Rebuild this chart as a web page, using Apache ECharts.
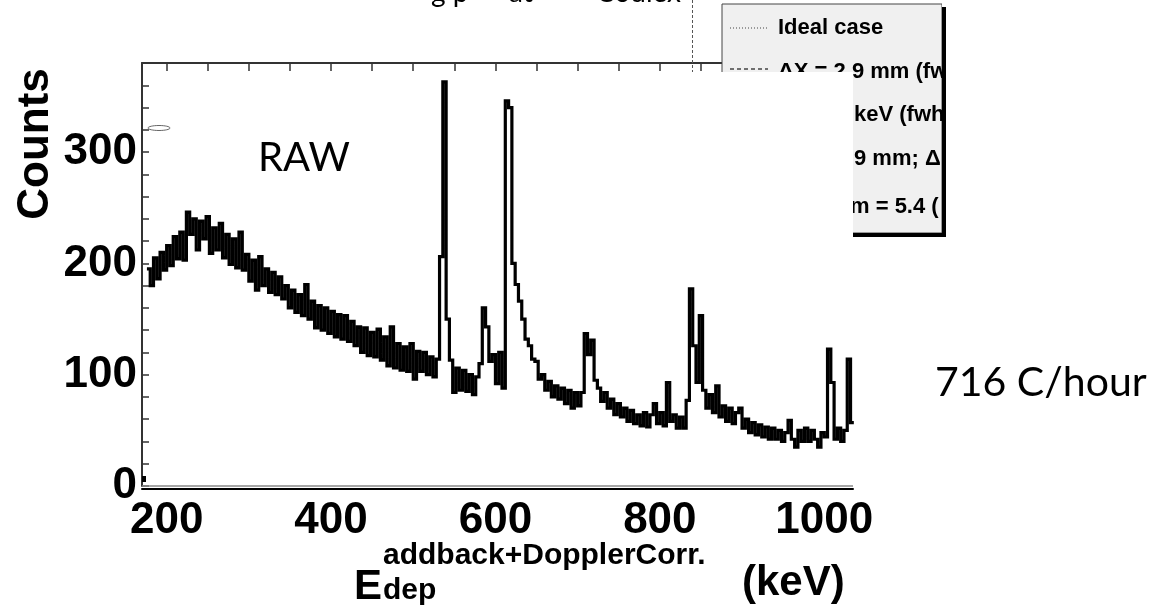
<!DOCTYPE html>
<html>
<head>
<meta charset="utf-8">
<script src="https://cdn.jsdelivr.net/npm/echarts@6/dist/echarts.min.js"></script>
<style>
  html, body { margin: 0; padding: 0; background: #fff; }
  #chart { width: 1164px; height: 611px; }
</style>
</head>
<body>
<div id="chart"></div>
<script>
// Gamma spectrum after addback + Doppler correction, 4 keV bins
const binStart = 176;   // keV, lower edge of the first bin
const binWidth = 4;     // keV
const counts = [
  // 176-212 keV
  195, 180, 205, 186, 210, 194, 216, 198, 224, 204,
  // 216-252
  228, 203, 246, 226, 240, 212, 238, 222, 242, 209,
  // 256-292
  232, 212, 236, 205, 226, 199, 222, 196, 228, 194,
  // 296-332
  208, 184, 203, 176, 206, 180, 195, 174, 192, 172,
  // 336-372
  188, 168, 180, 160, 176, 156, 172, 153, 181, 150,
  // 376-412
  166, 142, 162, 140, 160, 137, 157, 134, 154, 132,
  // 416-452
  153, 130, 148, 126, 143, 120, 142, 117, 138, 116,
  // 456-492
  141, 113, 134, 108, 143, 106, 128, 104, 125, 103,
  // 496-532
  128, 96, 121, 103, 120, 100, 116, 98, 114, 206,
  // 536-572
  363, 150, 113, 84, 106, 86, 104, 85, 100, 82,
  // 576-612
  98, 110, 160, 143, 112, 118, 92, 120, 88, 346,
  // 616-652
  340, 200, 181, 166, 150, 132, 126, 114, 112, 96,
  // 656-692
  100, 86, 94, 80, 90, 78, 88, 74, 86, 70,
  // 696-732
  84, 72, 84, 137, 118, 131, 95, 88, 76, 84,
  // 736-772
  70, 78, 64, 74, 62, 70, 58, 68, 56, 64,
  // 776-812
  54, 66, 53, 64, 74, 56, 66, 54, 93, 58,
  // 816-852
  64, 52, 62, 52, 77, 177, 126, 93, 153, 86,
  // 856-892
  70, 82, 66, 90, 62, 72, 58, 70, 56, 66,
  // 896-932
  70, 52, 60, 48, 57, 46, 55, 44, 53, 42,
  // 936-972
  52, 42, 50, 40, 48, 59, 42, 35, 50, 40,
  // 976-1012
  52, 40, 50, 42, 35, 48, 44, 123, 93, 42,
  // 1016-1032
  52, 40, 50, 114, 57
];

const xLabelValues = [200, 400, 600, 800, 1000];
const xTickValues = [200, 250, 300, 350, 400, 450, 500, 550, 600, 650, 700, 750, 800, 850, 900, 950, 1000];
const yLabelValues = [0, 100, 200, 300];
const yTickValues = [0, 20, 40, 60, 80, 100, 120, 140, 160, 180, 200, 220, 240, 260, 280, 300, 320, 340, 360];

const legendRows = ['Ideal case', '\u0394X = 2.9 mm (fwhm)', 'keV (fwhm)', '9 mm; \u0394E', 'm = 5.4 ('];

// step outline: one point per lower bin edge, plus the closing upper edge
const stepPoints = counts.map((c, i) => [binStart + i * binWidth, c]);
stepPoints.push([binStart + counts.length * binWidth, counts[counts.length - 1]]);

const AX = '"Liberation Sans", Arial, sans-serif';
const SLIDE = 'Lato, "Open Sans", sans-serif';

const chart = echarts.init(document.getElementById('chart'), null, { renderer: 'canvas' });

function txt(text, x, y, font, opts) {
  opts = opts || {};
  return {
    type: 'text', x: x, y: y, z: opts.z || 20, rotation: opts.rotation || 0,
    style: {
      text: text, font: font, fill: opts.fill || '#000',
      textAlign: opts.align || 'left', align: opts.align || 'left',
      textVerticalAlign: 'middle', verticalAlign: 'middle'
    }
  };
}

const graphics = [
  // y axis title
  txt('Counts', 36, 144, 'bold 44px ' + AX, { rotation: Math.PI / 2, align: 'center' }),
  // x axis title: E with superscript / subscript, then unit
  txt('E', 354, 587, 'bold 42px ' + AX),
  txt('addback+DopplerCorr.', 383, 556, 'bold 30px ' + AX),
  txt('dep', 383, 591, 'bold 30px ' + AX),
  txt('(keV)', 742, 583, 'bold 42px ' + AX),
  // slide annotations
  txt('RAW', 258, 158, '40px ' + SLIDE),
  txt('716 C/hour', 935, 383, '41px ' + SLIDE),
  txt('g p', 431, -7, '28px ' + SLIDE),
  txt('at', 509, -7, '28px ' + SLIDE),
  txt('Coulex', 596, -7, '28px ' + SLIDE),
  // dotted marker line above the frame
  { type: 'line', z: 15, shape: { x1: 692.5, y1: 0, x2: 692.5, y2: 72 },
    style: { stroke: '#555', lineWidth: 1, lineDash: [3, 2] } },
  // small outline mark near the left frame
  { type: 'ellipse', z: 15, shape: { cx: 159, cy: 128, rx: 11, ry: 2.5 },
    style: { stroke: '#666', fill: null, lineWidth: 1 } },
  { type: 'rect', z: 15, shape: { x: 142, y: 476, width: 4, height: 6 }, style: { fill: '#000' } },
  // legend box with drop shadow
  { type: 'rect', z: 30, shape: { x: 725, y: 7, width: 220, height: 230 }, style: { fill: '#000' } },
  { type: 'rect', z: 31, shape: { x: 722, y: 4, width: 220, height: 229 },
    style: { fill: '#f0f0f0', stroke: '#444', lineWidth: 1 } },
  { type: 'line', z: 32, shape: { x1: 730, y1: 28, x2: 768, y2: 28 },
    style: { stroke: '#444', lineWidth: 1, lineDash: [1, 2] } },
  { type: 'line', z: 32, shape: { x1: 730, y1: 69, x2: 768, y2: 69 },
    style: { stroke: '#444', lineWidth: 1.5, lineDash: [4, 3] } },
  txt(legendRows[0], 778, 28, 'bold 22px ' + AX, { z: 32 }),
  txt(legendRows[1], 778, 72, 'bold 22px ' + AX, { z: 32 }),
  txt(legendRows[2], 854, 115, 'bold 22px ' + AX, { z: 32 }),
  txt(legendRows[3], 854, 159, 'bold 22px ' + AX, { z: 32 }),
  txt(legendRows[4], 850, 207, 'bold 22px ' + AX, { z: 32 }),
  // white panels laid over the legend
  { type: 'rect', z: 33, shape: { x: 719, y: 72, width: 134, height: 170 }, style: { fill: '#fff' } },
  { type: 'rect', z: 33, shape: { x: 942, y: 0, width: 222, height: 242 }, style: { fill: '#fff' } },
  { type: 'rect', z: 34, shape: { x: 942, y: 7, width: 4, height: 230 }, style: { fill: '#000' } },
  { type: 'rect', z: 34, shape: { x: 853, y: 233, width: 93, height: 4 }, style: { fill: '#000' } }
];

const option = {
  animation: false,
  backgroundColor: '#fff',
  grid: { left: 142, right: 311, top: 63, bottom: 125, containLabel: false },
  xAxis: [
    {
      type: 'value', min: 170, max: 1035, position: 'bottom', offset: 3,
      axisLine: { show: true, onZero: false, lineStyle: { color: '#000', width: 2 } },
      axisTick: { show: false },
      splitLine: { show: false },
      axisLabel: {
        customValues: xLabelValues, margin: 10, color: '#000',
        fontSize: 44, fontWeight: 'bold', fontFamily: AX,
        formatter: (v) => String(v)
      }
    },
    {
      type: 'value', min: 170, max: 1035, position: 'top',
      axisLine: { show: true, onZero: false, lineStyle: { color: '#333', width: 2 } },
      axisTick: { show: true, inside: true, length: 8, customValues: xTickValues,
                  lineStyle: { color: '#333', width: 1.5 } },
      axisLabel: { show: false },
      splitLine: { show: false }
    }
  ],
  yAxis: {
    type: 'value', min: 0, max: 380, interval: 100, position: 'left',
    axisLine: { show: true, onZero: false, lineStyle: { color: '#333', width: 2 } },
    axisTick: { show: true, inside: true, length: 7, customValues: yTickValues,
                lineStyle: { color: '#333', width: 1.5 } },
    axisLabel: {
      customValues: yLabelValues, margin: 5, color: '#000',
      fontSize: 44, fontWeight: 'bold', fontFamily: AX,
      formatter: (v) => String(v)
    },
    splitLine: { show: false }
  },
  series: [{
    type: 'line',
    xAxisIndex: 0,
    step: 'end',
    data: stepPoints,
    showSymbol: false,
    symbol: 'none',
    clip: true,
    lineStyle: { color: '#000', width: 3.2, join: 'miter', cap: 'butt' },
    markLine: {
      silent: true, symbol: 'none', label: { show: false },
      lineStyle: { color: '#888', width: 1.5, type: 'solid' },
      data: [{ yAxis: 0 }]
    }
  }],
  graphic: graphics
};

chart.setOption(option);
</script>
</body>
</html>
